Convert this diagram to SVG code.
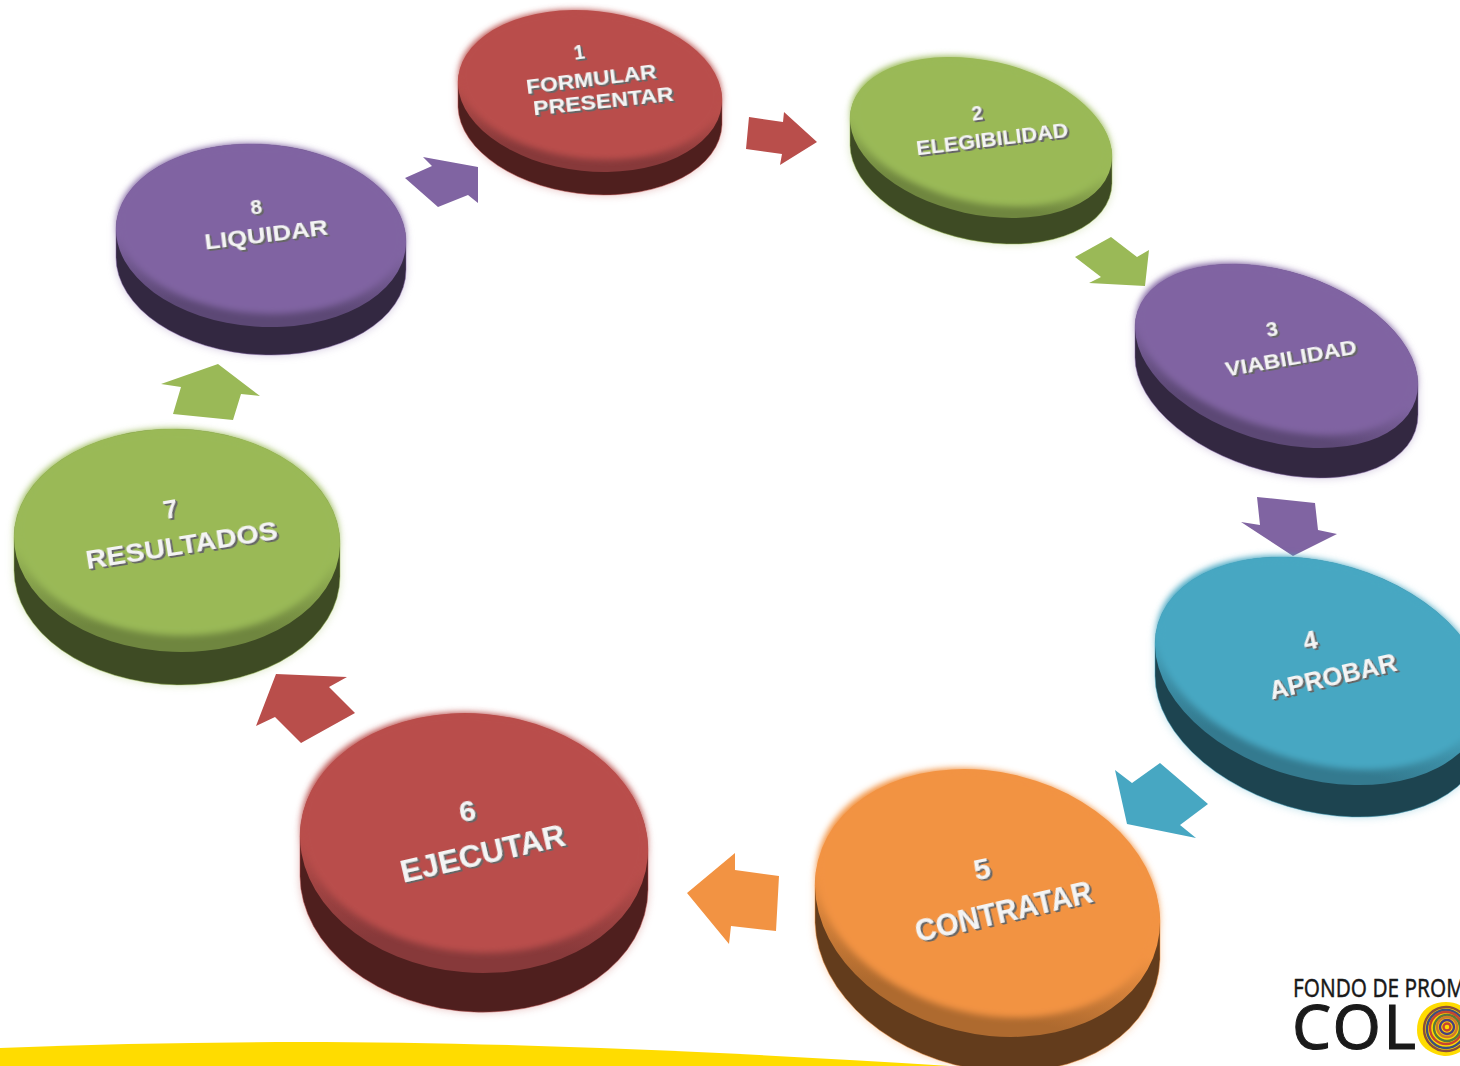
<svg xmlns="http://www.w3.org/2000/svg" width="1460" height="1066" viewBox="0 0 1460 1066">
<style>
.red .f,.red-a{fill:#b94e4b}.red .m{fill:url(#gr)}.red .d{fill:#4f1f1e;stroke:#b94e4b;filter:drop-shadow(0 0 4px rgba(185,78,75,.35))}
.grn .f,.grn-a{fill:#9ab957}.grn .m{fill:url(#gg)}.grn .d{fill:#3e4b24;stroke:#9bbb59;filter:drop-shadow(0 0 4px rgba(155,187,89,.35))}
.pur .f,.pur-a{fill:#8064a2}.pur .m{fill:url(#gp)}.pur .d{fill:#332841;stroke:#8064a2;filter:drop-shadow(0 0 4px rgba(128,100,162,.35))}
.blu .f,.blu-a{fill:#47a7c2}.blu .m{fill:url(#gb)}.blu .d{fill:#1d4450;stroke:#47a7c2;filter:drop-shadow(0 0 4px rgba(71,167,194,.35))}
.org .f,.org-a{fill:#f29343}.org .m{fill:url(#go)}.org .d{fill:#633c1c;stroke:#f29343;filter:drop-shadow(0 0 4px rgba(242,147,67,.35))}
.d{stroke-width:.8;stroke-opacity:.6}
.f{filter:url(#soft)}
.t{font-family:"Liberation Sans",Arial,sans-serif;font-weight:700;fill:#f4f4f4;text-anchor:middle;filter:url(#ext)}
.l{font-family:"Noto Sans","Liberation Sans",sans-serif;fill:#1a1a1a;stroke:#1a1a1a}
</style>
<defs>
<linearGradient id="gr" x1="0" y1="0" x2="0" y2="1"><stop offset=".55" stop-color="#b94e4b"/><stop offset=".9" stop-color="#87393a"/></linearGradient>
<linearGradient id="gg" x1="0" y1="0" x2="0" y2="1"><stop offset=".55" stop-color="#9ab957"/><stop offset=".9" stop-color="#6f863f"/></linearGradient>
<linearGradient id="gp" x1="0" y1="0" x2="0" y2="1"><stop offset=".55" stop-color="#8064a2"/><stop offset=".9" stop-color="#5c4875"/></linearGradient>
<linearGradient id="gb" x1="0" y1="0" x2="0" y2="1"><stop offset=".55" stop-color="#47a7c2"/><stop offset=".9" stop-color="#347a8f"/></linearGradient>
<linearGradient id="go" x1="0" y1="0" x2="0" y2="1"><stop offset=".55" stop-color="#f29343"/><stop offset=".9" stop-color="#ae6a2f"/></linearGradient>
<filter id="soft" x="-5%" y="-5%" width="110%" height="110%"><feGaussianBlur stdDeviation="3"/></filter>
<filter id="ext" x="-10%" y="-30%" width="120%" height="170%">
<feOffset in="SourceAlpha" dx=".8" dy="1.1" result="a"/>
<feOffset in="SourceAlpha" dx="1.7" dy="2.4" result="b"/>
<feMerge result="c"><feMergeNode in="a"/><feMergeNode in="b"/></feMerge>
<feFlood flood-color="#666"/><feComposite in2="c" operator="in" result="s"/>
<feMerge><feMergeNode in="s"/><feMergeNode in="SourceGraphic"/></feMerge>
</filter>
</defs>
<rect width="1460" height="1066" fill="#fff"/>
<path id="band" d="M0 1048C100 1044 200 1042 300 1042C480 1042 700 1050 950 1066L0 1066Z" fill="#ffdc00"/>
<g id="logo">
<text class="l" x="1293" y="997" font-size="25" stroke-width=".4" textLength="172" lengthAdjust="spacingAndGlyphs">FONDO DE PROM</text>
<text class="l" x="1292" y="1049" font-size="62" stroke-width="1" textLength="124">COL</text>
<path d="M1417 1030C1417 1012 1430 1002 1446 1002C1462 1002 1476 1014 1476 1030C1476 1046 1456 1057 1444 1056C1430 1054 1417 1046 1417 1030Z" fill="#ffdc00"/>
<g fill="none" stroke-width="2.4">
<circle cx="1446" cy="1029" r="22" stroke="#8a4f3a"/>
<circle cx="1446" cy="1029" r="19" stroke="#3e4f7c"/>
<circle cx="1446" cy="1028" r="16" stroke="#c8452f"/>
<circle cx="1447" cy="1028" r="13" stroke="#5a7a3a"/>
<circle cx="1447" cy="1027" r="10" stroke="#d07a2a"/>
<circle cx="1447" cy="1027" r="7" stroke="#4a3f80"/>
<circle cx="1447" cy="1027" r="3.5" stroke="#c8452f"/>
</g>
</g>
<g id="connectors">
<polygon class="red-a" points="749,117 783,122 784,112 817,142 780,165 782,154 746,149"/>
<polygon class="grn-a" points="1111,237 1137,257 1149,250 1145,286 1089,283 1101,277 1075,257"/>
<polygon class="pur-a" points="1257,497 1315,503 1318,530 1337,534 1293,556 1241,522 1260,525"/>
<polygon class="blu-a" points="1160,763 1208,804 1180,825 1196,838 1127,824 1115,770 1132,783"/>
<polygon class="org-a" points="735,853 735,870 779,876 776,931 731,926 729,944 687,893"/>
<polygon class="red-a" points="276,674 347,677 329,687 355,713 301,743 275,717 256,726"/>
<polygon class="grn-a" points="218,364 260,396 241,394 233,420 173,414 181,387 161,384"/>
<polygon class="pur-a" points="423,157 478,167 478,203 468,195 438,207 405,178 432,166"/>
</g>
<g id="n1" class="red">
<path class="d" d="M458 82.3A132.5 80.2 6 0 1 722 99.7L722 124.7A132.5 80.2 6 0 1 458 107.3Z"/>
<ellipse class="m" cx="590" cy="91" rx="132.5" ry="80.2" transform="rotate(6 590 91)"/>
<ellipse class="f" cx="590" cy="85" rx="131" ry="74" transform="rotate(6 590 85)"/>
<text class="t" font-size="20" transform="translate(580 59) rotate(-8)">1</text>
<text class="t" font-size="20" textLength="131" lengthAdjust="spacingAndGlyphs" transform="translate(592 86) rotate(-7)">FORMULAR</text>
<text class="t" font-size="20" textLength="141" lengthAdjust="spacingAndGlyphs" transform="translate(604 108) rotate(-6)">PRESENTAR</text>
</g>
<g id="n2" class="grn">
<path class="d" d="M850 118.5A133.1 77 12.5 0 1 1112 156.5L1112 183.5A133.1 77 12.5 0 1 850 145.5Z"/>
<ellipse class="m" cx="981" cy="137.5" rx="133.1" ry="77" transform="rotate(12.5 981 137.5)"/>
<ellipse class="f" cx="981" cy="131.5" rx="131.5" ry="71" transform="rotate(12.5 981 131.5)"/>
<text class="t" font-size="20" transform="translate(978 120) rotate(-8)">2</text>
<text class="t" font-size="20" textLength="153" lengthAdjust="spacingAndGlyphs" transform="translate(993 146) rotate(-7)">ELEGIBILIDAD</text>
</g>
<g id="n3" class="pur">
<path class="d" d="M1135 327.4A145.9 84.8 17.5 0 1 1418 384.6L1418 414.6A145.9 84.8 17.5 0 1 1135 357.4Z"/>
<ellipse class="m" cx="1276.5" cy="356" rx="145.9" ry="84.8" transform="rotate(17.5 1276.5 356)"/>
<ellipse class="f" cx="1276.5" cy="349" rx="144" ry="78" transform="rotate(17.5 1276.5 349)"/>
<text class="t" font-size="21" transform="translate(1273 336) rotate(-10)">3</text>
<text class="t" font-size="21" textLength="133" lengthAdjust="spacingAndGlyphs" transform="translate(1292 365) rotate(-10)">VIABILIDAD</text>
</g>
<g id="n4" class="blu">
<path class="d" d="M1155 644A168.8 108.3 16 0 1 1485 698L1485 730A168.8 108.3 16 0 1 1155 676Z"/>
<ellipse class="m" cx="1320" cy="671" rx="168.8" ry="108.3" transform="rotate(16 1320 671)"/>
<ellipse class="f" cx="1320" cy="663" rx="167" ry="100" transform="rotate(16 1320 663)"/>
<text class="t" font-size="25" transform="translate(1312 649) rotate(-12)">4</text>
<text class="t" font-size="25" textLength="130" lengthAdjust="spacingAndGlyphs" transform="translate(1335 685) rotate(-13)">APROBAR</text>
</g>
<g id="n5" class="org">
<path class="d" d="M815 884.8A174.8 131 14 0 1 1160 921.2L1160 959.2A174.8 131 14 0 1 815 922.8Z"/>
<ellipse class="m" cx="987.5" cy="903" rx="174.8" ry="131" transform="rotate(14 987.5 903)"/>
<ellipse class="f" cx="987.5" cy="893" rx="173" ry="121" transform="rotate(14 987.5 893)"/>
<text class="t" font-size="30" transform="translate(984 879) rotate(-12)">5</text>
<text class="t" font-size="31" textLength="181" lengthAdjust="spacingAndGlyphs" transform="translate(1006 922) rotate(-13)">CONTRATAR</text>
</g>
<g id="n6" class="red">
<path class="d" d="M300 836.2A174.3 129.6 5 0 1 648 849.8L648 889.8A174.3 129.6 5 0 1 300 876.2Z"/>
<ellipse class="m" cx="474" cy="843" rx="174.3" ry="129.6" transform="rotate(5 474 843)"/>
<ellipse class="f" cx="474" cy="833" rx="172.5" ry="119.5" transform="rotate(5 474 833)"/>
<text class="t" font-size="30" transform="translate(469 821) rotate(-10)">6</text>
<text class="t" font-size="31" textLength="168" lengthAdjust="spacingAndGlyphs" transform="translate(485 864) rotate(-13)">EJECUTAR</text>
</g>
<g id="n7" class="grn">
<path class="d" d="M14 537.5A163 111.4 2 0 1 340 543.5L340 576.5A163 111.4 2 0 1 14 570.5Z"/>
<ellipse class="m" cx="177" cy="540.5" rx="163" ry="111.4" transform="rotate(2 177 540.5)"/>
<ellipse class="f" cx="177" cy="532.5" rx="161" ry="103" transform="rotate(2 177 532.5)"/>
<text class="t" font-size="26" transform="translate(172 518) rotate(-10)">7</text>
<text class="t" font-size="26" textLength="194" lengthAdjust="spacingAndGlyphs" transform="translate(183 554) rotate(-9)">RESULTADOS</text>
</g>
<g id="n8" class="pur">
<path class="d" d="M116 229.4A145.2 91.2 4 0 1 406 241.6L406 269.6A145.2 91.2 4 0 1 116 257.4Z"/>
<ellipse class="m" cx="261" cy="235.5" rx="145.2" ry="91.2" transform="rotate(4 261 235.5)"/>
<ellipse class="f" cx="261" cy="229" rx="143.5" ry="84.5" transform="rotate(4 261 229)"/>
<text class="t" font-size="21" transform="translate(257 214) rotate(-8)">8</text>
<text class="t" font-size="22" textLength="124" lengthAdjust="spacingAndGlyphs" transform="translate(267 242) rotate(-7)">LIQUIDAR</text>
</g>
</svg>
